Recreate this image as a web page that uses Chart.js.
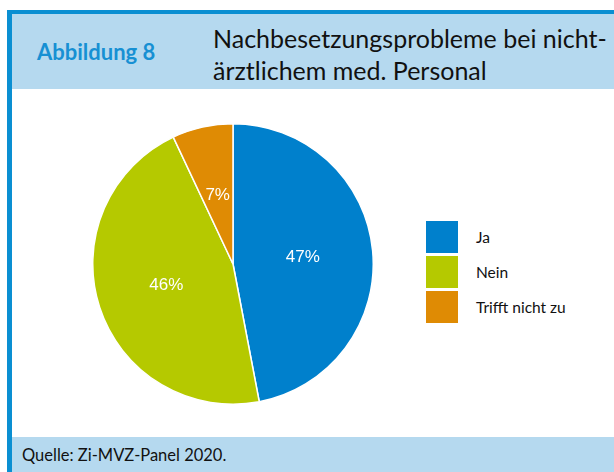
<!DOCTYPE html>
<html>
<head>
<meta charset="utf-8">
<script src="https://cdn.jsdelivr.net/npm/chart.js@4"></script>
<style>
  html, body { margin: 0; padding: 0; background: #fff; }
  body { width: 614px; height: 472px; position: relative; overflow: hidden; font-family: Lato, sans-serif; }
  .frame-top { position: absolute; left: 7px; top: 10px; width: 607px; height: 4px; background: #0a8fd2; }
  .frame-left { position: absolute; left: 7px; top: 10px; width: 5px; height: 462px; background: #0a8fd2; }
  .header { position: absolute; left: 12px; top: 14px; width: 602px; height: 75px; background: #b5d9ef; }
  .footer { position: absolute; left: 12px; top: 437px; width: 602px; height: 35px; background: #b5d9ef; }
  .fig { position: absolute; left: 25px; top: 24px; font-size: 22px; font-weight: bold; color: #1790d3; }
  .title { position: absolute; left: 201px; top: 8px; font-size: 25px; line-height: 32px; color: #111; }
  .source { position: absolute; left: 10px; top: 8px; font-size: 16.5px; color: #111; }
  #wrap { position: absolute; left: 92px; top: 123px; width: 282px; height: 282px; }
  #legend { position: absolute; left: 426px; top: 221px; font-size: 15.5px; color: #111; }
  #legend div { height: 35px; display: flex; align-items: flex-start; }
  #legend span.box { width: 32px; height: 32px; display: inline-block; margin-right: 18px; }
  #legend span.txt { line-height: 32px; }
</style>
</head>
<body>
<div class="frame-top"></div>
<div class="frame-left"></div>
<div class="header">
  <div class="fig">Abbildung 8</div>
  <div class="title">Nachbesetzungsprobleme bei nicht-<br>ärztlichem med. Personal</div>
</div>
<div class="footer"><div class="source">Quelle: Zi-MVZ-Panel 2020.</div></div>
<div id="wrap"><canvas id="pie"></canvas></div>
<div id="legend"></div>
<script>
const categories = ['Ja', 'Nein', 'Trifft nicht zu'];
const shares = [47, 46, 7];
const colors = ['#0080cc', '#b5c900', '#df8b04'];

// percent labels inside slices
const sliceLabels = {
    id: 'sliceLabels',
    afterDatasetsDraw(chart) {
        const c = chart.ctx;
        const meta = chart.getDatasetMeta(0);
        c.save();
        c.font = '17px "Liberation Sans", Arial, sans-serif';
        c.fillStyle = '#ffffff';
        c.textAlign = 'center';
        c.textBaseline = 'middle';
        meta.data.forEach((arc, i) => {
            const p = arc.tooltipPosition();
            c.fillText(shares[i] + '%', p.x, p.y);
        });
        c.restore();
    }
};

const chart = new Chart(document.getElementById('pie'), {
    type: 'pie',
    data: {
        labels: categories,
        datasets: [{
            data: shares,
            backgroundColor: colors,
            borderColor: '#ffffff',
            borderWidth: 1.5
        }]
    },
    options: {
        responsive: true,
        maintainAspectRatio: false,
        animation: false,
        layout: { padding: 0 },
        plugins: {
            legend: { display: false },
            tooltip: { enabled: false }
        }
    },
    plugins: [sliceLabels]
});

// legend built from the same arrays
const legend = document.getElementById('legend');
categories.forEach((name, i) => {
    const row = document.createElement('div');
    row.innerHTML = '<span class="box" style="background:' + colors[i] + '"></span><span class="txt">' + name + '</span>';
    legend.appendChild(row);
});
</script>
</body>
</html>
